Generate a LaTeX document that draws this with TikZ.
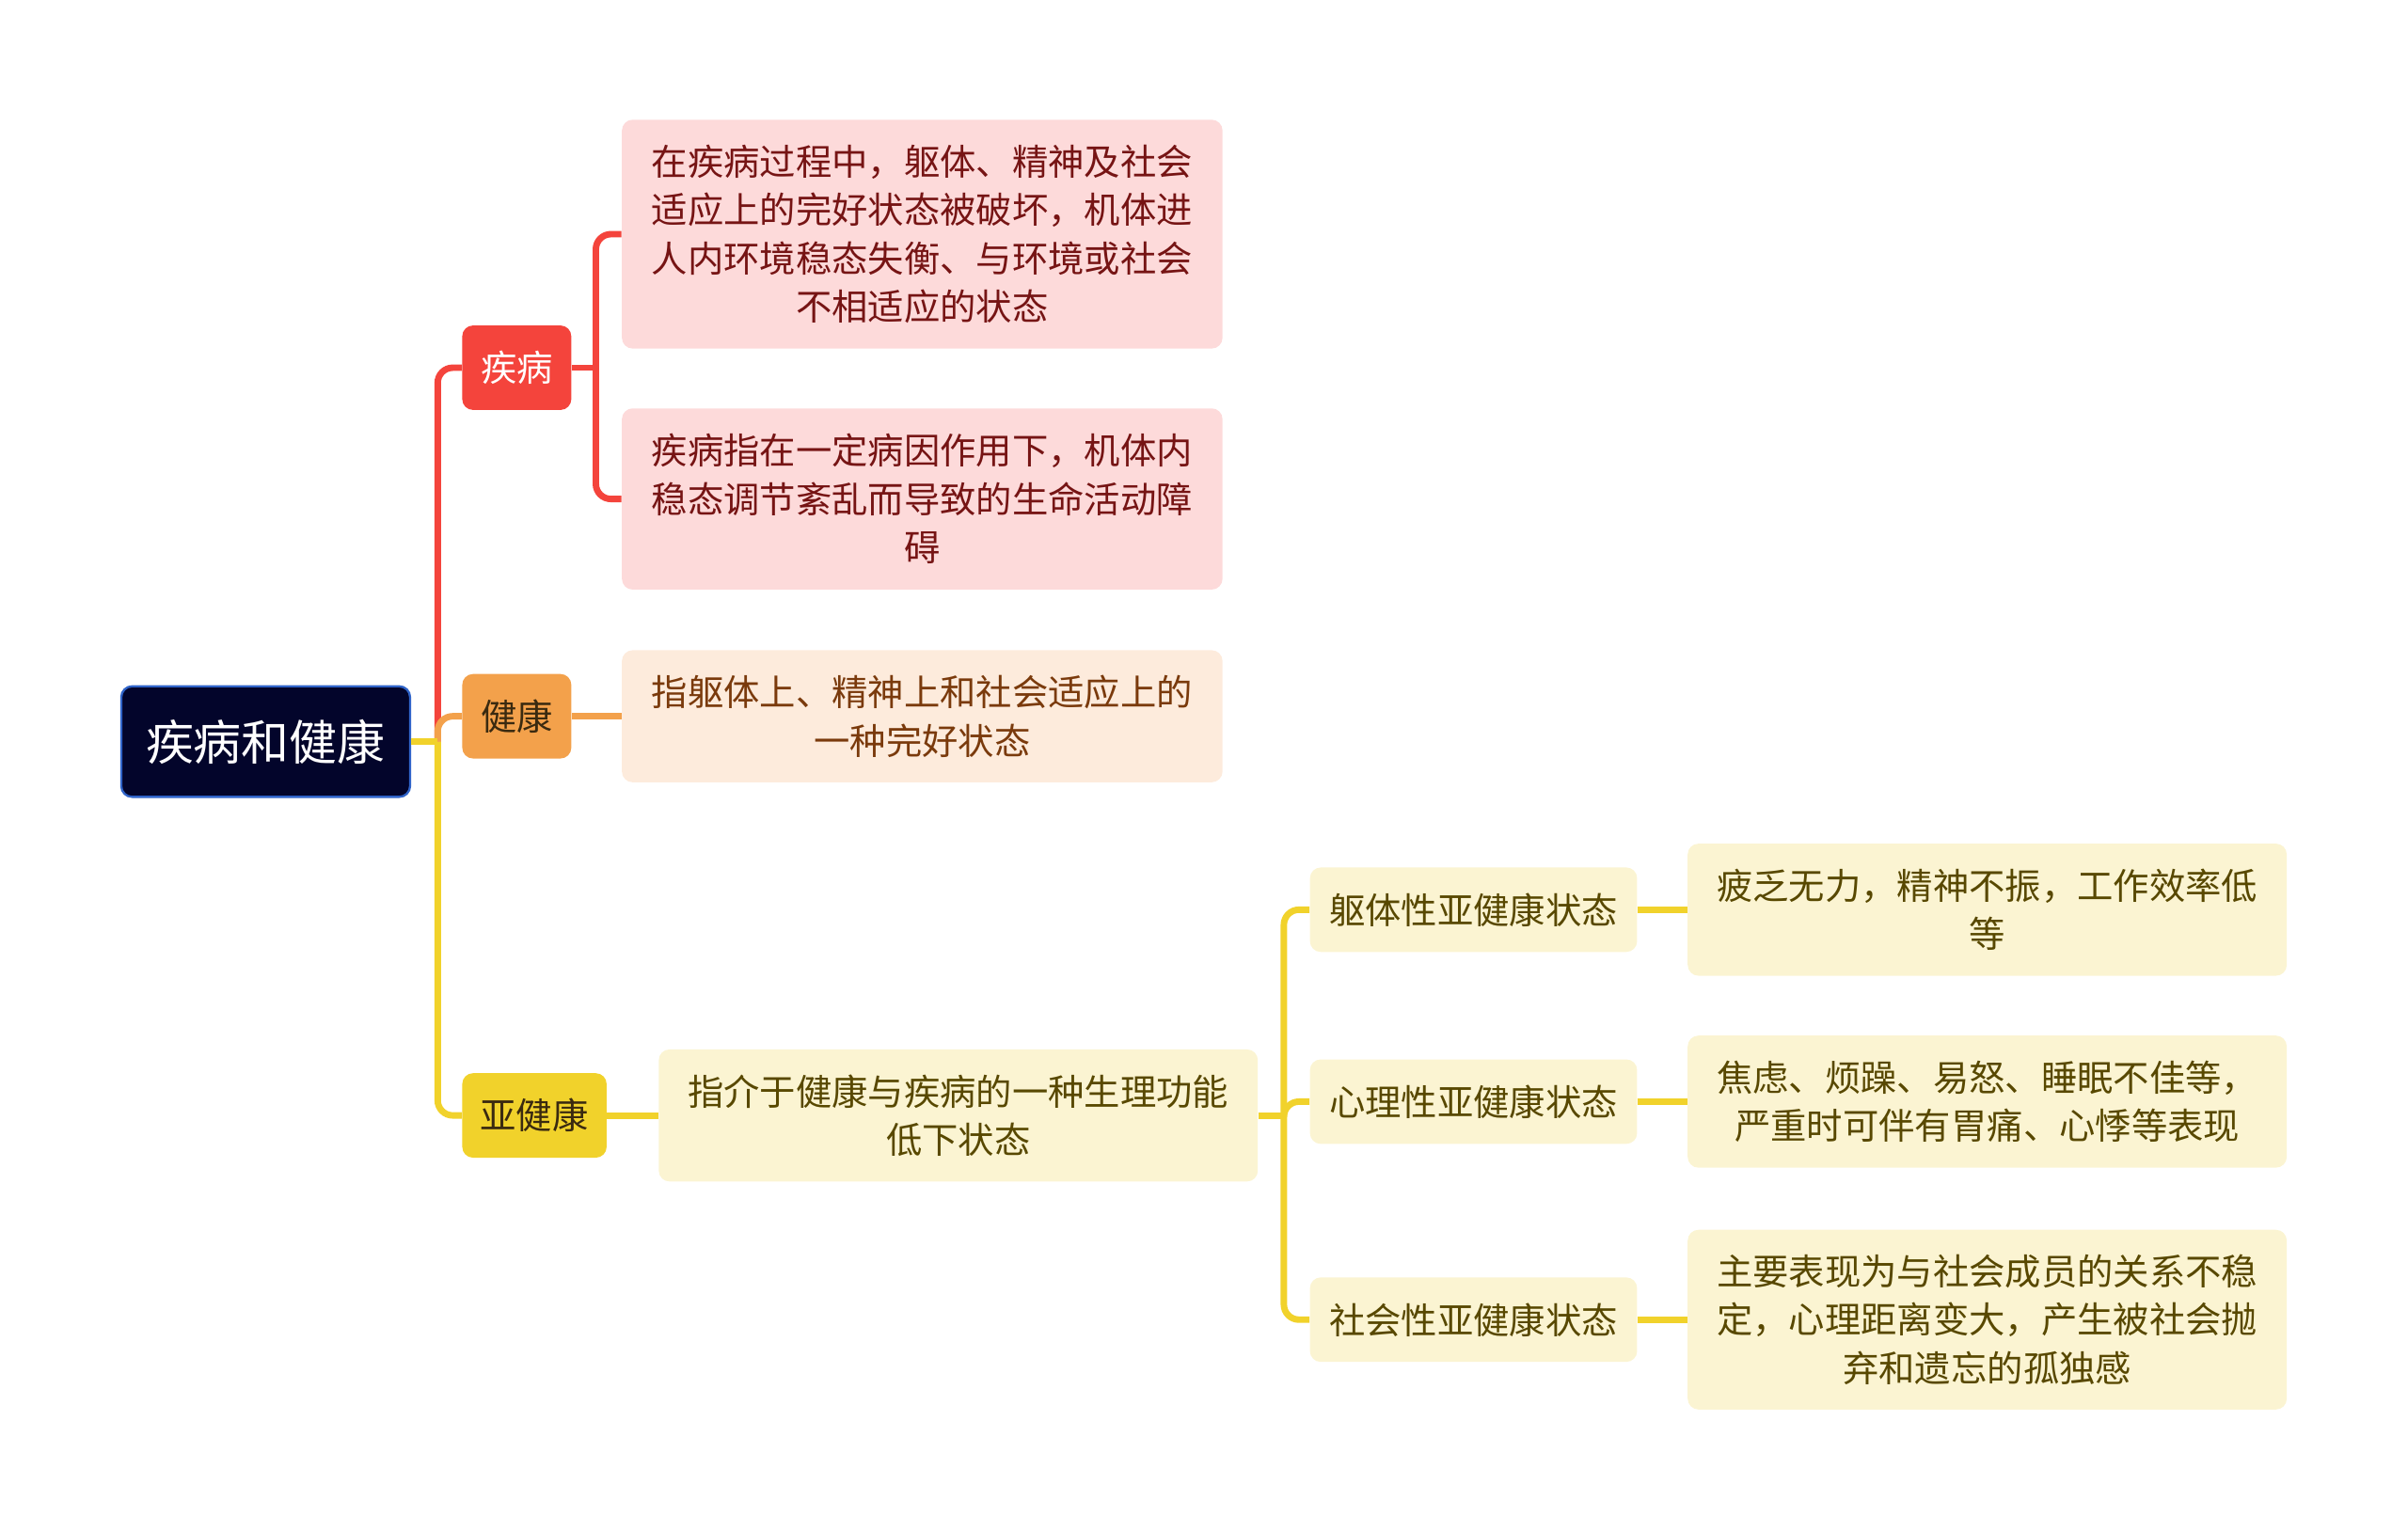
\documentclass[tikz,border=0pt]{standalone}
\usepackage{fontspec}
\setmainfont{Noto Sans CJK SC}
\usepackage{xcolor}
\definecolor{rootnavy}{HTML}{03052B}
\definecolor{rootblue}{HTML}{2F63C8}
\definecolor{dred}{HTML}{F4443C}
\definecolor{dorange}{HTML}{F3A14B}
\definecolor{dyellow}{HTML}{F1D22B}
\definecolor{lightpink}{HTML}{FDDADA}
\definecolor{lightpeach}{HTML}{FDEBDC}
\definecolor{lightcream}{HTML}{FBF4D2}
\definecolor{txtred}{HTML}{761414}
\definecolor{txtbrown}{HTML}{7A3A0C}
\definecolor{txtolive}{HTML}{584800}
\definecolor{txtdark}{HTML}{3A2A10}
\usepackage{tikz}
\usetikzlibrary{positioning, calc}
\newcommand{\leaffont}{\fontsize{16.7}{22.4}\selectfont}
\tikzset{
  rootbox/.style={rectangle, rounded corners=5pt, draw=rootblue, line width=1pt, fill=rootnavy, text=white,
                  align=center, minimum width=4.7cm, minimum height=1.8cm, font=\fontsize{22.2}{26}\selectfont},
  topicr/.style={rectangle, rounded corners=5pt, fill=dred, text=white, align=center,
                 minimum width=1.775cm, minimum height=1.375cm, inner sep=2pt, font=\leaffont},
  topico/.style={rectangle, rounded corners=5pt, fill=dorange, text=txtdark, align=center,
                 minimum width=1.775cm, minimum height=1.375cm, inner sep=2pt, font=\leaffont},
  topicy/.style={rectangle, rounded corners=5pt, fill=dyellow, text=txtdark, align=center,
                 minimum width=2.35cm, minimum height=1.375cm, inner sep=2pt, font=\leaffont},
  subbox/.style={rectangle, rounded corners=5pt, fill=lightcream, text=txtolive, align=center,
                 minimum width=5.325cm, minimum height=1.375cm, inner sep=2pt, font=\leaffont},
  leafr/.style={rectangle, rounded corners=5pt, fill=lightpink, text=txtred, align=center,
                minimum width=9.775cm, inner sep=2pt, font=\leaffont},
  leafo/.style={rectangle, rounded corners=5pt, fill=lightpeach, text=txtbrown, align=center,
                minimum width=9.775cm, inner sep=2pt, font=\leaffont},
  leafy/.style={rectangle, rounded corners=5pt, fill=lightcream, text=txtolive, align=center,
                minimum width=9.75cm, inner sep=2pt, font=\leaffont},
  linkr/.style={draw=dred, line width=3pt, rounded corners=7pt},
  linko/.style={draw=dorange, line width=3pt, rounded corners=7pt},
  linky/.style={draw=dyellow, line width=3pt, rounded corners=7pt},
}

\begin{document}
\begin{tikzpicture}[x=0.025cm, y=-0.025cm]
  \useasboundingbox (0,0) rectangle (1568,997);
  % root and first level
  \node[rootbox] (root) at (173,483) {疾病和健康};
  \node[topicr] (jb) at (336.5,239.5) {疾病};
  \node[topico] (jk) at (336.5,466.5) {健康};
  \node[topicy] (yjk) at (348,726.5) {亚健康};
  % leaves
  \node[leafr, minimum height=3.725cm] (jb1) at (600.5,152.5) {在疾病过程中，躯体、精神及社会\\适应上的完好状态被破坏，机体进\\人内环境稳态失衡、与环境或社会\\不相适应的状态};
  \node[leafr, minimum height=2.95cm] (jb2) at (600.5,325) {疾病指在一定病因作用下，机体内\\稳态调节紊乱而导致的生命活动障\\碍};
  \node[leafo, minimum height=2.15cm] (jk1) at (600.5,466.5) {指躯体上、精神上和社会适应上的\\一种完好状态};
  \node[leafy, minimum height=2.15cm] (yjk1) at (624,726.5) {指介于健康与疾病的一种生理功能\\低下状态};
  % sub-health kinds
  \node[subbox] (qt) at (959.5,592.5) {躯体性亚健康状态};
  \node[subbox] (xl) at (959.5,717.5) {心理性亚健康状态};
  \node[subbox] (sh) at (959.5,859.5) {社会性亚健康状态};
  \node[leafy, minimum height=2.15cm] (qt1) at (1294,592.5) {疲乏无力，精神不振，工作效率低\\等};
  \node[leafy, minimum height=2.15cm] (xl1) at (1294,717.5) {焦虑、烦躁、易怒、睡眠不佳等，\\严重时可伴有胃痛、心悸等表现};
  \node[leafy, minimum height=2.925cm] (sh1) at (1294,859.5) {主要表现为与社会成员的关系不稳\\定，心理距离变大，产生被社会抛\\弃和遗忘的孤独感};
  % connectors
  \coordinate (rt) at (285,483);
  \coordinate (jbt) at (388,239.5);
  \coordinate (yt) at (836,726.5);
  \draw[linkr] (rt) |- (jb.west);
  \draw[linko] (rt) |- (jk.west);
  \draw[linky] (rt) |- (yjk.west);
  \draw[linky] (root.east) -- (rt);
  \draw[linkr] (jb.east) -- (jbt);
  \draw[linkr] (jbt) |- (jb1.west);
  \draw[linkr] (jbt) |- (jb2.west);
  \draw[linko] (jk.east) -- (jk1.west);
  \draw[linky] (yjk.east) -- (yjk1.west);
  \draw[linky] (yjk1.east) -- (yt);
  \draw[linky] (yt) |- (qt.west);
  \draw[linky] (yt) |- (xl.west);
  \draw[linky] (yt) |- (sh.west);
  \draw[linky] (qt.east) -- (qt1.west);
  \draw[linky] (xl.east) -- (xl1.west);
  \draw[linky] (sh.east) -- (sh1.west);
\end{tikzpicture}
\end{document}
